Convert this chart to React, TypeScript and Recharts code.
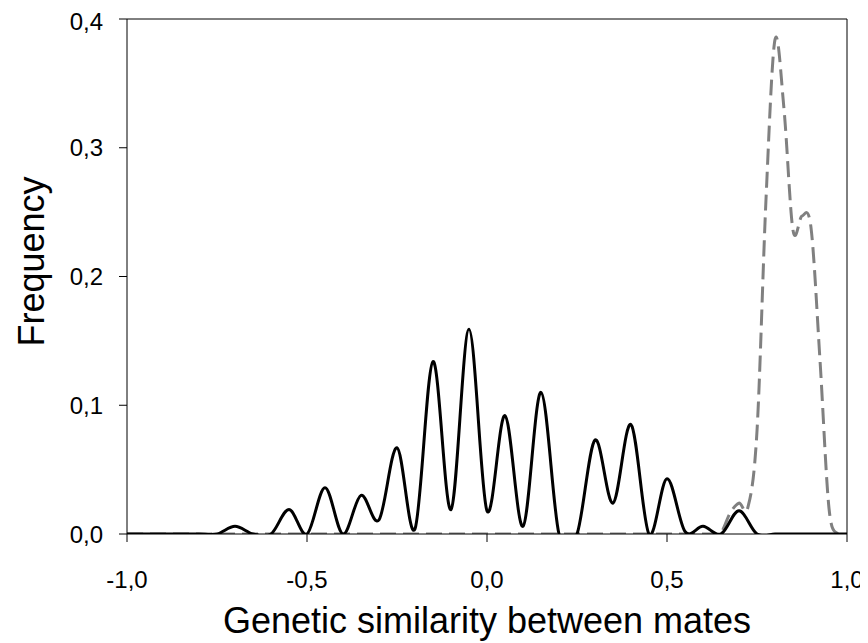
import { LineChart, Line, XAxis, YAxis, ReferenceLine, Label } from "recharts";

const FONT = "Liberation Sans, Arial, sans-serif";

// similarity bins for the solid black series
const blackX = [
  -1.0, -0.95, -0.9, -0.85, -0.8, -0.75, -0.7, -0.65, -0.6, -0.55, -0.5,
  -0.45, -0.4, -0.35, -0.3, -0.25, -0.2, -0.15, -0.1, -0.05, 0.0,
  0.05, 0.1, 0.15, 0.2, 0.25, 0.3, 0.35, 0.4, 0.45, 0.5,
  0.55, 0.6, 0.65, 0.7, 0.75, 0.8, 0.85, 0.9, 0.95, 1.0
];
const blackY = [
  0, 0, 0, 0, 0, 0, 0.006, 0, 0, 0.019, 0,
  0.036, 0, 0.03, 0.011, 0.067, 0.004, 0.134, 0.019, 0.159, 0.018,
  0.092, 0.006, 0.11, 0, 0, 0.073, 0.024, 0.085, 0, 0.043,
  0.002, 0.006, 0, 0.018, 0, 0, 0, 0, 0, 0
];

// dashed grey series (finer bins near the top end)
const greyX = [
  -1.0, -0.95, -0.9, -0.85, -0.8, -0.75, -0.7, -0.65, -0.6, -0.55, -0.5,
  -0.45, -0.4, -0.35, -0.3, -0.25, -0.2, -0.15, -0.1, -0.05, 0.0,
  0.05, 0.1, 0.15, 0.2, 0.25, 0.3, 0.35, 0.4, 0.45, 0.5,
  0.525, 0.55, 0.575, 0.6, 0.625, 0.65, 0.675, 0.7, 0.725, 0.75,
  0.775, 0.8, 0.825, 0.85, 0.875, 0.9, 0.925, 0.95, 0.975, 1.0
];
const greyY = [
  0, 0, 0, 0, 0, 0, 0, 0, 0, 0, 0,
  0, 0, 0, 0, 0, 0, 0, 0, 0, 0,
  0, 0, 0, 0, 0, 0, 0, 0, 0, 0,
  0, 0, 0, 0, 0, 0.001, 0.016, 0.024, 0.021, 0.08,
  0.26, 0.384, 0.33, 0.236, 0.247, 0.238, 0.135, 0.02, 0, 0
];

const xTicks = [-1, -0.5, 0, 0.5, 1];
const yTicks = [0, 0.1, 0.2, 0.3, 0.4];

const blackData = blackX.map((x, i) => ({ x, y: blackY[i] }));
const greyData = greyX.map((x, i) => ({ x, y: greyY[i] }));

const fmt = (v: number) => v.toFixed(1).replace(".", ",");

// Excel-style smoothed line (uniform Catmull-Rom through the points)
function smooth(context: any) {
  let pts: number[][] = [];
  return {
    areaStart() {},
    areaEnd() {},
    lineStart() {
      pts = [];
    },
    point(x: number, y: number) {
      pts.push([+x, +y]);
    },
    lineEnd() {
      if (!pts.length) return;
      context.moveTo(pts[0][0], pts[0][1]);
      for (let i = 0; i < pts.length - 1; i++) {
        const p0 = pts[i - 1] || pts[i];
        const p1 = pts[i];
        const p2 = pts[i + 1];
        const p3 = pts[i + 2] || p2;
        context.bezierCurveTo(
          p1[0] + (p2[0] - p0[0]) / 6,
          p1[1] + (p2[1] - p0[1]) / 6,
          p2[0] - (p3[0] - p1[0]) / 6,
          p2[1] - (p3[1] - p1[1]) / 6,
          p2[0],
          p2[1]
        );
      }
    }
  };
}

export default function App() {
  return (
    <div style={{ width: 860, height: 635, background: "#fff" }}>
      <LineChart width={860} height={635} margin={{ top: 11, right: 21, bottom: 0, left: 0 }}>
        <XAxis
          type="number"
          dataKey="x"
          domain={[-1, 1]}
          ticks={xTicks}
          tickFormatter={fmt}
          height={109}
          stroke="#000"
          tickSize={8}
          tickMargin={29}
          tick={{ fill: "#000", fontSize: 24, fontFamily: FONT }}
        >
          <Label
            value="Genetic similarity between mates"
            position="insideBottom"
            offset={10}
            style={{ fill: "#000", fontSize: 36, fontFamily: FONT }}
          />
        </XAxis>
        <YAxis
          type="number"
          domain={[0, 0.4]}
          ticks={yTicks}
          allowDataOverflow
          tickFormatter={fmt}
          width={119}
          stroke="#000"
          tickSize={8}
          tickMargin={16}
          tick={{ fill: "#000", fontSize: 24, fontFamily: FONT }}
        >
          <Label
            value="Frequency"
            angle={-90}
            position="center"
            dx={-36}
            dy={-15}
            style={{ fill: "#000", fontSize: 36, fontFamily: FONT }}
          />
        </YAxis>
        <ReferenceLine y={0.4} stroke="#000" />
        <ReferenceLine x={1} stroke="#000" />
        <Line
          data={greyData}
          dataKey="y"
          type={smooth as any}
          stroke="#808080"
          strokeWidth={3}
          strokeDasharray="16 7"
          dot={false}
          activeDot={false}
          isAnimationActive={false}
        />
        <Line
          data={blackData}
          dataKey="y"
          type={smooth as any}
          stroke="#000"
          strokeWidth={3}
          dot={false}
          activeDot={false}
          isAnimationActive={false}
        />
      </LineChart>
    </div>
  );
}
